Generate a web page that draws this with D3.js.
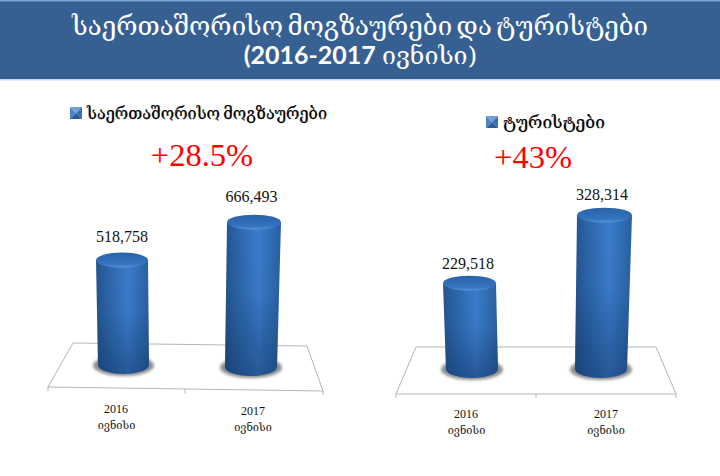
<!DOCTYPE html>
<html><head><meta charset="utf-8">
<script src="https://cdn.jsdelivr.net/npm/d3@7"></script>
<style>html,body{margin:0;padding:0;background:#fff}svg{display:block}</style></head>
<body><div id="c"></div>
<script>
const titleLine1 = "საერთაშორისო მოგზაურები და ტურისტები";
const titleYears = "(2016-2017 ";
const titleMonth = "ივნისი)";
const categories = ["2016","2017"];
const monthLabel = "ივნისი";
const travellers = [518758,666493];
const tourists = [229518,328314];
const seriesNames = ["საერთაშორისო მოგზაურები","ტურისტები"];
const growthLabels = ["+28.5%","+43%"];

const geoFont = "'DejaVu Serif','DejaVu Sans',serif";
const numFont = "'Liberation Serif',serif";
const fmt = d3.format(",");

const svg = d3.select("#c").append("svg").attr("width",720).attr("height",476);
const defs = svg.append("defs");
const grad = (id,stops,x2=1,y2=0)=>{
  const l = defs.append("linearGradient").attr("id",id).attr("x1",0).attr("y1",0).attr("x2",x2).attr("y2",y2);
  stops.forEach(s=>l.append("stop").attr("offset",s[0]).attr("stop-color",s[1]).attr("stop-opacity",s[2]===undefined?1:s[2]));
};
grad("body",[[0,"#24548e"],[.2,"#2b63a6"],[.6,"#3b7dcc"],[.88,"#2e69ae"],[1,"#2a5f9e"]]);
grad("shade",[[0,"#0c2c58",0],[.45,"#0c2c58",.05],[1,"#0c2c58",.45]],0,1);
grad("top",[[0,"#2a62a8"],[.75,"#3373bf"],[1,"#5592d8"]],0,1);
defs.append("filter").attr("id","blur").attr("x","-30%").attr("y","-50%").attr("width","160%").attr("height","200%")
  .append("feGaussianBlur").attr("stdDeviation",1.8);

// header
svg.append("rect").attr("width",720).attr("height",79).attr("fill","#376092");
svg.append("rect").attr("width",720).attr("height",1.5).attr("fill","#7ea3d3");
svg.append("rect").attr("y",79).attr("width",720).attr("height",1.5).attr("fill","#c6d9f0");
svg.append("text").attr("x",360).attr("y",35).attr("text-anchor","middle").attr("fill","#fff").attr("word-spacing",-4)
  .attr("font-family",geoFont).attr("font-size",26).attr("textLength",576).attr("lengthAdjust","spacingAndGlyphs").text(titleLine1);
const t2 = svg.append("text").attr("x",360.5).attr("y",64).attr("text-anchor","middle").attr("fill","#fff").attr("font-size",25);
t2.append("tspan").attr("font-family","Lato,'Open Sans',sans-serif").attr("font-weight",700).text(titleYears);
t2.append("tspan").attr("font-family",geoFont).text(titleMonth);

const panels = [
 {values:travellers,name:seriesNames[0],growth:growthLabels[0],
  floor:[[73,343],[307,346],[323,391],[48,387]],tick:[185,389.5],
  baseX:[123.5,251],baseY:[365,367],slant:[-1.5,3],baseW:[51,52],topW:[52,54],
  d0:130000,slope:2.7e-4,
  swatch:[70,107],legX:87,legY:118.5,legLen:240,gX:202,gY:165.5,gSize:32.5,
  lab:[[122,242],[251.5,202]],cat:[[116,413],[253,415]],mon:[[116.5,429],[253,431]]},
 {values:tourists,name:seriesNames[1],growth:growthLabels[1],
  floor:[[416,347],[656,347],[676,394],[396,394]],tick:[536,394],
  baseX:[472,601],baseY:[369,369],slant:[-2.5,3.5],baseW:[52,52],topW:[53,55],
  d0:104700,slope:6.88e-4,
  swatch:[486,116],legX:503,legY:128,legLen:102,gX:533,gY:168,gSize:32.5,
  lab:[[468,269],[602,200]],cat:[[466,418],[606,418]],mon:[[466.5,434],[606,434]]}
];

panels.forEach(p=>{
  const g = svg.append("g");
  g.append("path").attr("d",d3.line()(p.floor)+"Z").attr("fill","#fff").attr("stroke","#b5b5b5").attr("stroke-width",1);
  [p.floor[3],p.tick,p.floor[2]].forEach(q=>
    g.append("line").attr("x1",q[0]).attr("x2",q[0]).attr("y1",q[1]).attr("y2",q[1]+4).attr("stroke","#b5b5b5"));
  const h = d3.scaleLinear().domain([p.d0,p.d0+1/p.slope]).range([0,1]);
  const x = d3.scaleOrdinal().domain(categories).range(p.baseX);
  const y = d3.scaleOrdinal().domain(categories).range(p.baseY);
  categories.forEach((c,i)=>{
    const v = p.values[i], bx=x(c), by=y(c), tx=bx+p.slant[i], ty=by-h(v);
    const bw=p.baseW[i]/2, tw=p.topW[i]/2, bry=9, try_=7.5;
    g.append("ellipse").attr("cx",bx).attr("cy",by+.5).attr("rx",bw+5).attr("ry",bry+1.5)
      .attr("fill","#8c8c8c").attr("filter","url(#blur)");
    const d = `M${tx-tw},${ty} L${bx-bw},${by} A${bw},${bry} 0 0 0 ${bx+bw},${by} L${tx+tw},${ty} Z`;
    g.append("path").attr("d",d).attr("fill","url(#body)");
    g.append("path").attr("d",d).attr("fill","url(#shade)");
    g.append("ellipse").attr("cx",tx).attr("cy",ty).attr("rx",tw).attr("ry",try_).attr("fill","url(#top)");
    g.append("text").attr("x",p.lab[i][0]).attr("y",p.lab[i][1]).attr("text-anchor","middle")
      .attr("font-family",numFont).attr("font-size",16).attr("fill","#111").text(fmt(v));
    g.append("text").attr("x",p.cat[i][0]).attr("y",p.cat[i][1]).attr("text-anchor","middle")
      .attr("font-family",numFont).attr("font-size",12).attr("fill","#111").text(c);
    g.append("text").attr("x",p.mon[i][0]).attr("y",p.mon[i][1]).attr("text-anchor","middle")
      .attr("font-family",geoFont).attr("font-size",11).attr("fill","#222").text(monthLabel);
  });
  const [sx,sy]=p.swatch, s=12, m=[sx+s/2,sy+s/2];
  [[[sx,sy],[sx+s,sy],"#6fa0d8"],[[sx,sy],[sx,sy+s],"#4f86c8"],[[sx+s,sy],[sx+s,sy+s],"#3a70b4"],[[sx,sy+s],[sx+s,sy+s],"#2d5c96"]]
    .forEach(t=>g.append("path").attr("d",d3.line()([t[0],t[1],m])+"Z").attr("fill",t[2]));
  g.append("text").attr("x",p.legX).attr("y",p.legY).attr("font-family",geoFont).attr("font-size",17).attr("fill","#000")
    .attr("stroke","#000").attr("stroke-width",.25).attr("word-spacing",-2)
    .attr("textLength",p.legLen).attr("lengthAdjust","spacingAndGlyphs").text(p.name);
  g.append("text").attr("x",p.gX).attr("y",p.gY).attr("text-anchor","middle").attr("font-family",numFont)
    .attr("font-size",p.gSize).attr("fill","#ff0000").text(p.growth);
});
</script></body></html>
